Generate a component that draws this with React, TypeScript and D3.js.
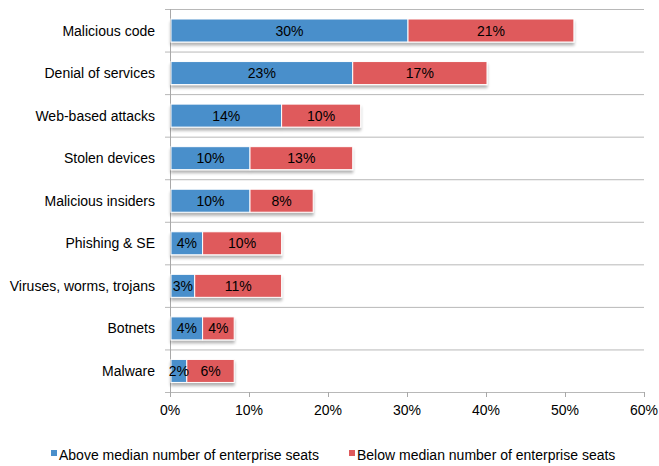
import * as d3 from "d3";

const categories = [
  "Malicious code",
  "Denial of services",
  "Web-based attacks",
  "Stolen devices",
  "Malicious insiders",
  "Phishing & SE",
  "Viruses, worms, trojans",
  "Botnets",
  "Malware",
];
const aboveMedian = [30, 23, 14, 10, 10, 4, 3, 4, 2];
const belowMedian = [21, 17, 10, 13, 8, 10, 11, 4, 6];
const xTicks = [0, 10, 20, 30, 40, 50, 60];
const seriesNames = [
  "Above median number of enterprise seats",
  "Below median number of enterprise seats",
];
const colors = ["#4a8fcb", "#df5a5c"];

const W = 659;
const H = 466;
const left = 170;
const right = 644;
const top = 9;
const bottom = 392;
const font = "'Liberation Sans', Arial, Helvetica, sans-serif";

export default function App() {
  const x = d3.scaleLinear().domain([0, 60]).range([left, right]);
  const y = d3
    .scaleBand<string>()
    .domain(categories)
    .range([top, bottom])
    .paddingInner(0)
    .paddingOuter(0);
  const barH = 23;
  const barOff = 10;

  const rows = categories.map((c, i) => ({
    c,
    segs: [
      { s: 0, x0: 0, x1: aboveMedian[i], v: aboveMedian[i] },
      { s: 1, x0: aboveMedian[i], x1: aboveMedian[i] + belowMedian[i], v: belowMedian[i] },
    ],
  }));

  const gridYs = categories.map((c) => y(c)!).concat([bottom]);

  return (
    <svg width={W} height={H} style={{ position: "absolute", left: 0, top: 0, fontFamily: font }}>
      <rect width={W} height={H} fill="#fff" />
      <defs>
        <filter id="sh" x="-5%" y="-20%" width="110%" height="160%">
          <feGaussianBlur in="SourceAlpha" stdDeviation="1.5" />
          <feOffset dx="0" dy="3" result="b" />
          <feComponentTransfer>
            <feFuncA type="linear" slope="0.3" />
          </feComponentTransfer>
          <feMerge>
            <feMergeNode />
            <feMergeNode in="SourceGraphic" />
          </feMerge>
        </filter>
      </defs>
      {/* horizontal gridlines */}
      {gridYs.map((gy, i) => (
        <line key={i} x1={left - 5} x2={right} y1={gy + 0.5} y2={gy + 0.5} stroke="#b8b8b8" strokeWidth={1} />
      ))}
      {/* y axis */}
      <line x1={left + 0.5} x2={left + 0.5} y1={top} y2={bottom + 5} stroke="#a8a8a8" />
      {/* x ticks */}
      {xTicks.map((t) => (
        <g key={t}>
          <line x1={x(t) + 0.5} x2={x(t) + 0.5} y1={bottom} y2={bottom + 5} stroke="#a8a8a8" />
          <text x={x(t)} y={bottom + 23} textAnchor="middle" fontSize={14} fill="#000">
            {t}%
          </text>
        </g>
      ))}
      {/* bars */}
      {rows.map((r) => (
        <g key={r.c} filter="url(#sh)">
          {r.segs.map((sg) => (
            <rect
              key={sg.s}
              x={x(sg.x0) + 1}
              y={y(r.c)! + barOff}
              width={x(sg.x1) - x(sg.x0)}
              height={barH}
              fill={colors[sg.s]}
              stroke="#fff"
              strokeWidth={1}
            />
          ))}
        </g>
      ))}
      {rows.map((r) =>
        r.segs.map((sg) => (
          <text
            key={r.c + sg.s}
            x={(x(sg.x0) + x(sg.x1)) / 2 + 1}
            y={y(r.c)! + barOff + barH / 2 + 5}
            textAnchor="middle"
            fontSize={14}
            fill="#000"
          >
            {sg.v}%
          </text>
        ))
      )}
      {/* category labels */}
      {categories.map((c) => (
        <text key={c} x={155} y={y(c)! + barOff + barH / 2 + 5} textAnchor="end" fontSize={14} fill="#000">
          {c}
        </text>
      ))}
      {/* legend */}
      {seriesNames.map((n, i) => {
        const lx = i === 0 ? 51 : 349;
        return (
          <g key={n}>
            <rect x={lx} y={450} width={6} height={6} fill={colors[i]} />
            <text x={lx + 8} y={460} fontSize={14} fill="#000">
              {n}
            </text>
          </g>
        );
      })}
    </svg>
  );
}
